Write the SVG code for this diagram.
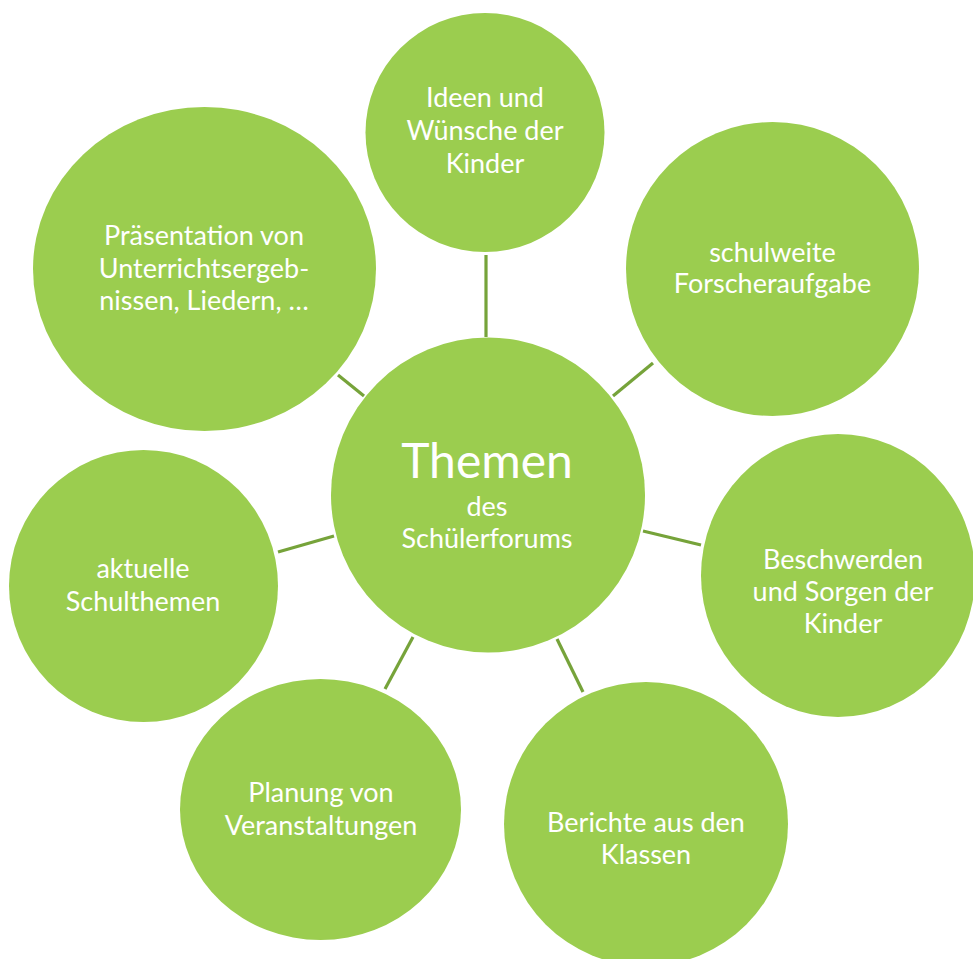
<svg xmlns="http://www.w3.org/2000/svg" width="973" height="959" viewBox="0 0 973 959">
  <style>
    .bubble { fill: #9bcd4f; }
    .label { fill: #ffffff; font-family: Lato, "Open Sans", "Liberation Sans", sans-serif; font-size: 27px; text-anchor: middle; }
    .title { font-size: 48px; }
    .links line { stroke: #76a33a; stroke-width: 3.2; }
  </style>
  <rect width="973" height="959" fill="#ffffff"/>

  <!-- spokes between the hub and the outer bubbles -->
  <g id="connectors" class="links">
    <line x1="486" y1="255" x2="486" y2="337"/>
    <line x1="338" y1="375" x2="364" y2="396"/>
    <line x1="653" y1="363" x2="613" y2="396"/>
    <line x1="643" y1="531" x2="701" y2="545"/>
    <line x1="278" y1="552" x2="334" y2="536"/>
    <line x1="413" y1="637" x2="385" y2="689"/>
    <line x1="557" y1="639" x2="583" y2="692"/>
  </g>

  <g id="hub">
    <ellipse class="bubble" cx="488" cy="495" rx="157" ry="157.5"/>
    <text class="label title" x="487" y="478">Themen</text>
    <text class="label" x="487" y="516">des</text>
    <text class="label" x="487" y="548">Schülerforums</text>
  </g>

  <g id="ideen">
    <ellipse class="bubble" cx="485" cy="132.5" rx="119.5" ry="119.5"/>
    <text class="label" x="485" y="107">Ideen und</text>
    <text class="label" x="485" y="140">Wünsche der</text>
    <text class="label" x="485" y="173">Kinder</text>
  </g>

  <g id="praesentation">
    <ellipse class="bubble" cx="204.5" cy="269" rx="171.5" ry="162"/>
    <text class="label" x="204" y="245">Präsentation von</text>
    <text class="label" x="204" y="278">Unterrichtsergeb-</text>
    <text class="label" x="204" y="310">nissen, Liedern, …</text>
  </g>

  <g id="forscheraufgabe">
    <ellipse class="bubble" cx="772.5" cy="269" rx="146.5" ry="147"/>
    <text class="label" x="772.5" y="262">schulweite</text>
    <text class="label" x="772.5" y="293">Forscheraufgabe</text>
  </g>

  <g id="beschwerden">
    <ellipse class="bubble" cx="838" cy="575.5" rx="137" ry="141.5"/>
    <text class="label" x="843" y="569">Beschwerden</text>
    <text class="label" x="843" y="601">und Sorgen der</text>
    <text class="label" x="843" y="633">Kinder</text>
  </g>

  <g id="berichte">
    <ellipse class="bubble" cx="646" cy="824" rx="142" ry="142"/>
    <text class="label" x="646" y="832">Berichte aus den</text>
    <text class="label" x="646" y="864">Klassen</text>
  </g>

  <g id="planung">
    <ellipse class="bubble" cx="320.5" cy="809.5" rx="140.5" ry="130.5"/>
    <text class="label" x="321" y="802">Planung von</text>
    <text class="label" x="321" y="835">Veranstaltungen</text>
  </g>

  <g id="schulthemen">
    <ellipse class="bubble" cx="143.5" cy="586" rx="134.5" ry="136"/>
    <text class="label" x="143" y="578">aktuelle</text>
    <text class="label" x="143" y="611">Schulthemen</text>
  </g>
</svg>
